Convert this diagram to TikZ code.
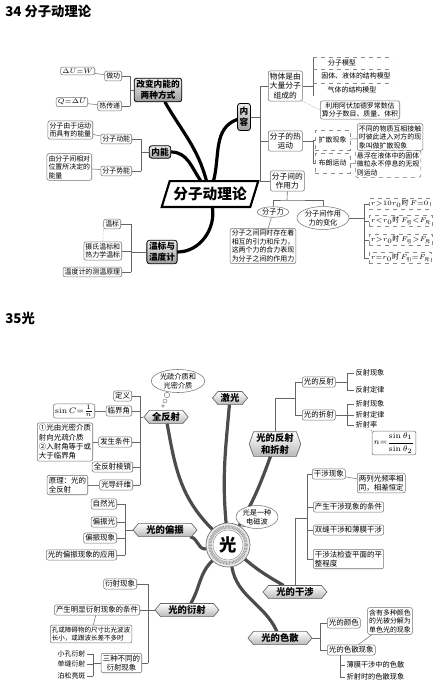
\documentclass[tikz,border=0pt]{standalone}
\usepackage{amsmath}
\usepackage[no-math]{fontspec}
\setmainfont{Noto Sans CJK SC}
\usetikzlibrary{shapes.geometric,shapes.symbols,backgrounds}

\tikzset{
  leaf/.style={draw=black!55, rounded corners=1.5pt, line width=0.4pt, fill=white,
    inner sep=1.2pt, align=center, font=\fontsize{5.2}{6.4}\selectfont},
  mleaf/.style={leaf, font=\fontsize{5.8}{7.4}\selectfont},
  bleaf/.style={leaf, font=\fontsize{5.6}{7}\selectfont},
  note/.style={leaf, align=left},
  bnote/.style={bleaf, align=left},
  dleaf/.style={draw=black!45, dashed, line width=0.4pt, inner sep=1.2pt,
    font=\fontsize{5.2}{6.4}\selectfont},
  txt/.style={inner sep=1pt, font=\fontsize{5.2}{6.4}\selectfont},
  btxt/.style={inner sep=1pt, font=\fontsize{5.4}{6.6}\selectfont},
  topic/.style={draw=black, rounded corners=2pt, line width=0.6pt, top color=gray!15,
    bottom color=gray!75, align=center, inner sep=1.6pt,
    font=\bfseries\fontsize{6.5}{8.2}\selectfont},
  hexa/.style={signal, signal to=east and west, signal pointer angle=100,
    draw=black!60, line width=0.5pt, top color=white, bottom color=gray!55,
    align=center, inner xsep=2pt, inner ysep=1.6pt,
    font=\bfseries\fontsize{7}{8.6}\selectfont},
  cloud/.style={ellipse, draw=black!55, line width=0.4pt, fill=white, inner sep=0.3pt,
    align=center, font=\fontsize{5.4}{6.6}\selectfont},
  bubble/.style={circle, draw=black!55, line width=0.35pt, fill=white, inner sep=0},
  conn/.style={draw=black!60, line width=0.45pt},
  tail/.style={draw=black!55, line width=0.4pt},
  branch/.style={line width=2.4pt, line cap=round},
  guangc/.style={circle, minimum size=33pt, draw=black!55, line width=0.5pt, fill=gray!15,
    font=\bfseries\fontsize{13}{15}\selectfont,
    path picture={
      \draw[black!40, line width=2.6pt, dash pattern=on 0.5pt off 0.6pt]
        (path picture bounding box.center) circle (13.6pt);
      \fill[white] (path picture bounding box.center) circle (11.2pt);
      \draw[black!50, line width=0.3pt] (path picture bounding box.center) circle (11.2pt);}},
}

\begin{document}
\begin{tikzpicture}[x=0.75pt, y=0.75pt]
  \useasboundingbox (0,0) rectangle (433,-693);

  % ===== 34 分子动理论 =====
  \node[anchor=west, inner sep=0, font=\bfseries\fontsize{10}{12}\selectfont] (t34) at (5,-11) {34 分子动理论};

  \node[minimum width=66pt, minimum height=19pt, inner sep=0,
    font=\bfseries\fontsize{11}{13}\selectfont] (fzdll) at (210,-194) {分子动理论};

  % 改变内能的两种方式
  \node[topic] (gaibian) at (158,-90) {改变内能的\\两种方式};
  \node[leaf, anchor=east] (zuogong) at (122,-76) {做功};
  \node[leaf, anchor=east] (rechuandi) at (122,-106) {热传递};
  \node[leaf, anchor=east] (dUW) at (95,-71) {$\Delta U{=}W$};
  \node[leaf, anchor=east] (QdU) at (88,-102) {$Q{=}\Delta U$};

  % 内能
  \node[topic] (neineng) at (160,-152) {内能};
  \node[leaf, anchor=east] (dongneng) at (132,-139) {分子动能};
  \node[note, anchor=east] (dongnengnote) at (93,-130) {分子由于运动\\而具有的能量};
  \node[leaf, anchor=east] (shineng) at (132,-171) {分子势能};
  \node[note, anchor=east] (shinengnote) at (92,-167) {由分子间相对\\位置所决定的\\能量};

  % 温标与温度计
  \node[topic] (wendu) at (162,-252) {温标与\\温度计};
  \node[leaf, anchor=east] (wenbiao) at (121,-224) {温标};
  \node[leaf, anchor=east] (sheshi) at (122,-251) {摄氏温标和\\热力学温标};
  \node[leaf, anchor=east] (cewen) at (122,-272) {温度计的测温原理};

  % 内容
  \node[topic, inner ysep=3pt] (neirong) at (244,-117) {内\\容};
  \node[mleaf, anchor=west] (wuti) at (268,-86) {物体是由\\大量分子\\组成的};
  \node[txt] (moxing1) at (342,-63) {分子模型};
  \node[txt] (moxing2) at (356,-76) {固体、液体的结构模型};
  \node[txt] (moxing3) at (352,-90) {气体的结构模型};
  \node[leaf, anchor=west] (afjdl) at (320,-110) {利用阿伏加德罗常数估\\算分子数目、质量、体积};
  \node[mleaf, anchor=west] (rey) at (268,-141) {分子的热\\运动};
  \node[dleaf, anchor=west, minimum width=26pt, minimum height=15pt] (kuosan) at (315,-140) {扩散现象};
  \node[note, anchor=west] (kuosannote) at (357,-137) {不同的物质互相接触\\时彼此进入对方的现\\象叫做扩散现象};
  \node[dleaf, anchor=west, minimum width=26pt, minimum height=15pt] (bulang) at (315,-163) {布朗运动};
  \node[note, dashed, anchor=west] (bulangnote) at (355,-164) {悬浮在液体中的固体\\微粒永不停息的无规\\则运动};
  \node[mleaf, anchor=west] (zuoyongli) at (270,-181) {分子间的\\作用力};
  \node[cloud] (fzl) at (273,-212) {分子力};
  \node[cloud] (bianhua) at (323,-218) {分子间作用\\力的变化};
  \node[note] (fzlnote) at (263,-246) {分子之间同时存在着\\相互的引力和斥力，\\这两个力的合力表现\\为分子之间的作用力};
  \node[dleaf, anchor=west] (r1) at (369,-204) {$r{>}10r_0$时$\,F{=}0$};
  \node[dleaf, anchor=west] (r2) at (369,-221) {$r{<}r_0$时$\,F_{\text{引}}{<}F_{\text{斥}}$};
  \node[dleaf, anchor=west] (r3) at (369,-240) {$r{>}r_0$时$\,F_{\text{引}}{>}F_{\text{斥}}$};
  \node[dleaf, anchor=west] (r4) at (369,-258) {$r{=}r_0$时$\,F_{\text{引}}{=}F_{\text{斥}}$};

  % 连线
  \coordinate (b1) at (130,-90);
  \coordinate (b2) at (141,-152);
  \coordinate (b3) at (131,-252);
  \coordinate (b4) at (260,-117);
  \coordinate (b5) at (313,-141);
  \coordinate (b6) at (364,-218);
  \coordinate (b7) at (287,-200);
  \foreach \n in {zuogong,rechuandi} \draw[conn] (\n.east) -- (\n.east -| b1);
  \draw[conn] (zuogong.east -| b1) -- (rechuandi.east -| b1) (gaibian.west) -- (gaibian.west -| b1);
  \foreach \n in {dongneng,shineng} \draw[conn] (\n.east) -- (\n.east -| b2);
  \draw[conn] (dongneng.east -| b2) -- (shineng.east -| b2) (neineng.west) -- (neineng.west -| b2);
  \foreach \n in {wenbiao,sheshi,cewen} \draw[conn] (\n.east) -- (\n.east -| b3);
  \draw[conn] (wenbiao.east -| b3) -- (cewen.east -| b3) (wendu.west) -- (wendu.west -| b3);
  \foreach \n in {wuti,rey,zuoyongli} \draw[conn] (\n.west) -- (\n.west -| b4);
  \draw[conn] (wuti.west -| b4) -- (zuoyongli.west -| b4) (neirong.east) -- (neirong.east -| b4);
  \draw[conn] (wuti.east) -- (wuti.east -| b5) (313,-57) -- (313,-96);
  \foreach \y in {57,69,83} \draw[black!45, dashed, line width=0.4pt] (313,-\y) -- (393,-\y);
  \foreach \n in {kuosan,bulang} \draw[conn] (\n.west) -- (\n.west -| b5);
  \draw[conn] (kuosan.west -| b5) -- (bulang.west -| b5) (rey.east) -- (rey.east -| b5);
  \foreach \n in {r1,r2,r3,r4} \draw[conn] (\n.west) -- (\n.west -| b6);
  \draw[conn] (r1.west -| b6) -- (r4.west -| b6) (bianhua.east) -- (bianhua.east -| b6);
  \draw[conn] (zuoyongli.south) -- (b7);
  \draw[conn] (fzl.north) |- (b7) -| (bianhua.north);

  \draw[tail] (dUW) -- (zuogong);
  \draw[tail] (QdU) -- (rechuandi);
  \draw[tail] (dongnengnote) -- (dongneng);
  \draw[tail] (shinengnote) -- (shineng);
  \draw[black!50, densely dotted] (wenbiao.south west) -- (sheshi.north);
  \draw[black!50, densely dotted] (wuti.south east) -- (afjdl.west);
  \draw[tail] (kuosan) -- (kuosannote);
  \draw[tail] (bulang) -- (bulangnote);
  \draw[tail] (fzl) -- (fzlnote);

  % ===== 35 光 =====
  \node[anchor=west, inner sep=0, font=\bfseries\fontsize{10}{12}\selectfont] (t35) at (5,-318) {35光};
  \node[guangc] (guang) at (228,-545) {光};

  % 全反射
  \node[cloud, minimum width=40pt] (guangshu) at (178,-381) {光疏介质和\\光密介质};
  \node[bubble, minimum size=4pt] (pao1) at (167,-395) {};
  \node[bubble, minimum size=3pt] (pao2) at (165,-401) {};
  \node[bubble, minimum size=2pt] (pao3) at (163,-406) {};
  \node[hexa] (quanfanshe) at (166,-417) {全反射};
  \node[hexa] (jiguang) at (230,-398) {激光};
  \node[bleaf, anchor=east] (dingyi) at (132,-396) {定义};
  \node[bleaf, anchor=east] (linjie) at (132,-411) {临界角};
  \node[bleaf, anchor=east] (sinC) at (95,-411) {$\sin C{=}\frac{1}{n}$};
  \node[bleaf, anchor=east] (fasheng) at (132,-442) {发生条件};
  \node[bnote, anchor=east] (fashengnote) at (93,-442) {①光由光密介质\\射向光疏介质\\②入射角等于或\\大于临界角};
  \node[bleaf, anchor=east] (lengjing) at (133,-467) {全反射棱镜};
  \node[bleaf, anchor=east] (guangdao) at (133,-485) {光导纤维};
  \node[bnote, anchor=east] (yuanli) at (88,-485) {原理：光的\\全反射};

  % 光的反射和折射
  \node[hexa, signal pointer angle=140] (fsz) at (275,-444) {光的反射\\和折射};
  \node[bleaf, anchor=west] (guangfs) at (302,-382) {光的反射};
  \node[bleaf, anchor=west] (guangzs) at (302,-415) {光的折射};
  \node[btxt, anchor=west] (fsxx) at (354,-373) {反射现象};
  \node[btxt, anchor=west] (fsdl) at (354,-390) {反射定律};
  \node[btxt, anchor=west] (zsxx) at (354,-404) {折射现象};
  \node[btxt, anchor=west] (zsdl) at (354,-415) {折射定律};
  \node[btxt, anchor=west] (zsl) at (354,-425) {折射率};
  \node[bleaf] (nfor) at (394,-443) {$n{=}\dfrac{\sin\theta_1}{\sin\theta_2}$};

  % 光的干涉
  \node[hexa, minimum width=48pt] (guanggs) at (295,-592) {光的干涉};
  \node[bleaf, anchor=west] (ganshe) at (312,-474) {干涉现象};
  \node[bnote, anchor=west] (gsnote) at (357,-483) {两列光频率相\\同，相差恒定};
  \node[bleaf, anchor=west] (tiaojian) at (313,-507) {产生干涉现象的条件};
  \node[bleaf, anchor=west] (shuangfeng) at (313,-530) {双缝干涉和薄膜干涉};
  \node[bnote, anchor=west] (jiancha) at (313,-559) {干涉法检查平面的平\\整程度};
  \node[cloud] (dianci) at (257,-517) {光是一种\\电磁波};

  % 光的偏振
  \node[hexa, minimum width=48pt] (guangpz) at (165,-530) {光的偏振};
  \node[bleaf, anchor=east] (ziran) at (117,-504) {自然光};
  \node[bleaf, anchor=east] (pianzhen) at (117,-522) {偏振光};
  \node[bleaf, anchor=east] (pzxx) at (117,-538) {偏振现象};
  \node[bleaf, anchor=east] (pzyy) at (117,-555) {光的偏振现象的应用};

  % 光的衍射
  \node[hexa, minimum width=48pt] (guangys) at (187,-610) {光的衍射};
  \node[bleaf, anchor=east] (ysxx) at (137,-584) {衍射现象};
  \node[bleaf, anchor=east] (tjys) at (140,-610) {产生明显衍射现象的条件};
  \node[bnote, anchor=west, font=\fontsize{4.9}{6.4}\selectfont] (ysnote) at (50,-634) {孔或障碍物的尺寸比光波波\\长小，或跟波长差不多时};
  \node[bleaf, anchor=east] (sanzhong) at (142,-663) {三种不同的\\衍射现象};
  \node[txt, anchor=east] (xkys) at (87,-654) {小孔衍射};
  \node[txt, anchor=east] (dfys) at (87,-664) {单缝衍射};
  \node[txt, anchor=east] (bsld) at (87,-676) {泊松亮斑};

  % 光的色散
  \node[hexa, minimum width=48pt] (guangss) at (280,-638) {光的色散};
  \node[bleaf, anchor=west] (yanse) at (327,-623) {光的颜色};
  \node[bleaf, anchor=west] (sesanxx) at (327,-650) {光的色散现象};
  \node[note] (ssnote) at (390,-621) {含有多种颜色\\的光被分解为\\单色光的现象};
  \node[btxt, anchor=west] (bmgs) at (345,-665) {薄膜干涉中的色散};
  \node[btxt, anchor=west] (zsss) at (345,-677) {折射时的色散现象};

  % 连线
  \coordinate (c1) at (140,-417);
  \coordinate (c2) at (295,-398);
  \coordinate (c3) at (347,-382);
  \coordinate (c4) at (347,-415);
  \coordinate (c5) at (307,-518);
  \coordinate (c6) at (125,-530);
  \coordinate (c7) at (148,-610);
  \coordinate (c8) at (93,-663);
  \coordinate (c9) at (320,-638);
  \coordinate (c10) at (340,-665);
  \foreach \n in {dingyi,linjie,fasheng,lengjing,guangdao} \draw[conn] (\n.east) -- (\n.east -| c1);
  \draw[conn] (dingyi.east -| c1) -- (guangdao.east -| c1) (quanfanshe.west) -- (quanfanshe.west -| c1);
  \draw[conn] (fsz.north) |- (c2);
  \foreach \n in {guangfs,guangzs} \draw[conn] (\n.west) -- (\n.west -| c2);
  \draw[conn] (guangfs.west -| c2) -- (guangzs.west -| c2);
  \foreach \n in {fsxx,fsdl} \draw[conn] (\n.west) -- (\n.west -| c3);
  \draw[conn] (fsxx.west -| c3) -- (fsdl.west -| c3) (guangfs.east) -- (guangfs.east -| c3);
  \foreach \n in {zsxx,zsdl,zsl} \draw[conn] (\n.west) -- (\n.west -| c4);
  \draw[conn] (zsxx.west -| c4) -- (zsl.west -| c4) (guangzs.east) -- (guangzs.east -| c4);
  \draw[conn] (guanggs.north) |- (c5);
  \foreach \n in {ganshe,tiaojian,shuangfeng,jiancha} \draw[conn] (\n.west) -- (\n.west -| c5);
  \draw[conn] (ganshe.west -| c5) -- (jiancha.west -| c5);
  \foreach \n in {ziran,pianzhen,pzxx,pzyy} \draw[conn] (\n.east) -- (\n.east -| c6);
  \draw[conn] (ziran.east -| c6) -- (pzyy.east -| c6) (guangpz.west) -- (guangpz.west -| c6);
  \foreach \n in {ysxx,tjys,sanzhong} \draw[conn] (\n.east) -- (\n.east -| c7);
  \draw[conn] (ysxx.east -| c7) -- (sanzhong.east -| c7) (guangys.west) -- (guangys.west -| c7);
  \foreach \n in {xkys,dfys,bsld} \draw[conn] (\n.east) -- (\n.east -| c8);
  \draw[conn] (xkys.east -| c8) -- (bsld.east -| c8) (sanzhong.west) -- (sanzhong.west -| c8);
  \foreach \n in {yanse,sesanxx} \draw[conn] (\n.west) -- (\n.west -| c9);
  \draw[conn] (yanse.west -| c9) -- (sesanxx.west -| c9) (guangss.east) -- (guangss.east -| c9);
  \draw[conn] (sesanxx.south -| c10) |- (zsss.west) (bmgs.west -| c10) -- (bmgs.west);

  \draw[tail] (sinC) -- (linjie);
  \draw[tail] (fashengnote) -- (fasheng);
  \draw[tail] (yuanli) -- (guangdao);
  \draw[tail] (zsl) -- (nfor.north west);
  \draw[tail] (gsnote) -- (ganshe);
  \draw[tail] (ysnote) -- (tjys);
  \draw[tail] (ssnote) -- (sesanxx);
  \draw[tail] (dianci.220) -- (guang.60);

  % 主干
  \begin{scope}[on background layer]
    \fill[white] (0,0) rectangle (433,-693);
    \draw[branch] (gaibian) to[out=-60, in=105] (fzdll);
    \draw[branch] (neirong) to[out=200, in=75] (fzdll);
    \draw[branch] (neineng) to[out=0, in=125] (fzdll);
    \draw[branch] (wendu) to[out=0, in=-80] (fzdll);
    \draw[line width=1.6pt, fill=white] ([xshift=-3pt]fzdll.south west) -- ([xshift=-3pt]fzdll.south east)
      -- ([xshift=3pt]fzdll.north east) -- ([xshift=3pt]fzdll.north west) -- cycle;
    \draw[branch, black!70] (quanfanshe) to[out=-80, in=135] (guang);
    \draw[branch, black!70] (jiguang) to[out=-95, in=95] (guang);
    \draw[branch, black!70] (fsz) to[out=-110, in=60] (guang);
    \draw[branch, black!70] (guangpz) to[out=-15, in=190] (guang);
    \draw[branch, black!70] (guangys) to[out=60, in=225] (guang);
    \draw[branch, black!70] (guanggs) to[out=150, in=-40] (guang);
    \draw[branch, black!70] (guangss) to[out=115, in=-80] (guang);
  \end{scope}
\end{tikzpicture}
\end{document}
